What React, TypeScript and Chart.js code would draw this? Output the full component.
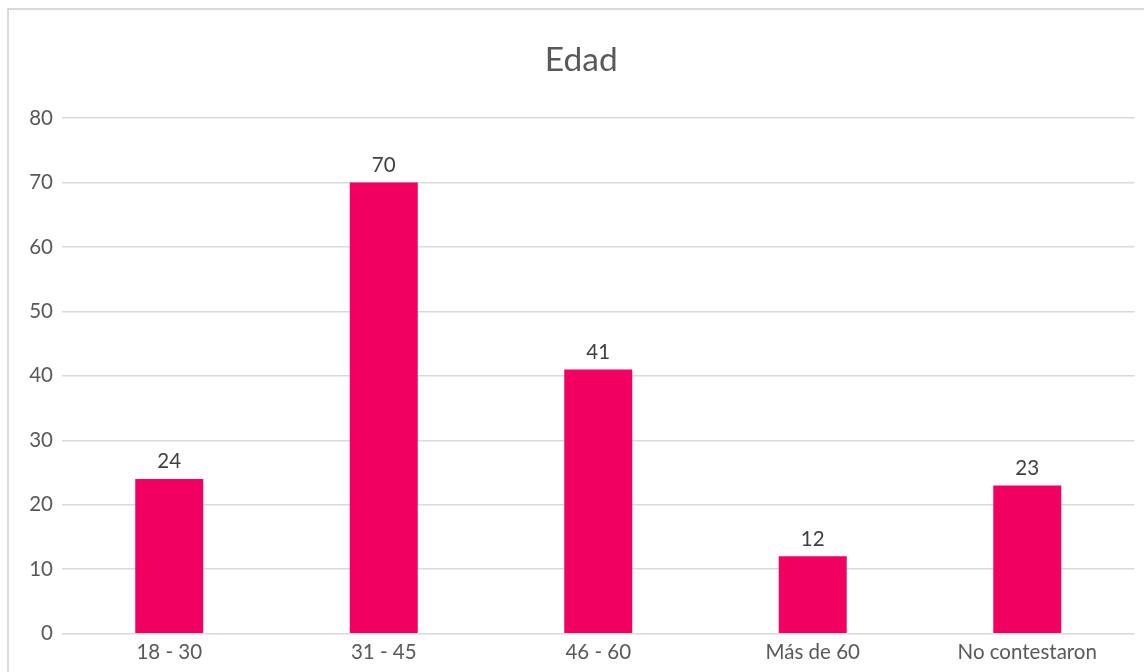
import React, { useEffect, useRef } from "react";
import { Chart, registerables } from "chart.js";

Chart.register(...registerables);

const categories = ["18 - 30", "31 - 45", "46 - 60", "Más de 60", "No contestaron"];
const values = [24, 70, 41, 12, 23];
const chartTitle = "Edad";
const yMax = 80;
const yStep = 10;

const FONT = "Lato, 'Open Sans', sans-serif";
const CW = 1162;
const CH = 672;

const valueLabels = {
  id: "valueLabels",
  afterDatasetsDraw(chart: any) {
    const ctx = chart.ctx;
    const meta = chart.getDatasetMeta(0);
    ctx.save();
    ctx.font = `20.5px ${FONT}`;
    ctx.fillStyle = "#404040";
    ctx.textAlign = "center";
    ctx.textBaseline = "bottom";
    meta.data.forEach((bar: any, i: number) => {
      ctx.fillText(String(values[i]), bar.x, bar.y - 7);
    });
    ctx.restore();
  },
};

export default function App() {
  const ref = useRef<HTMLCanvasElement | null>(null);
  useEffect(() => {
    if (!ref.current) return;
    const chart = new Chart(ref.current, {
      type: "bar",
      data: {
        labels: categories,
        datasets: [
          {
            data: values,
            backgroundColor: "#F00060",
            barPercentage: 0.317,
            categoryPercentage: 1,
          },
        ],
      },
      options: {
        animation: false,
        responsive: false,
        layout: { padding: { left: 28, right: CW - 1134.5, top: 0, bottom: 8.3 } },
        plugins: {
          legend: { display: false },
          tooltip: { enabled: false },
          title: {
            display: true,
            text: chartTitle,
            color: "#595959",
            font: { family: FONT, size: 33.5, weight: "normal" },
            padding: { top: 40, bottom: 37.8 },
          },
        },
        scales: {
          x: {
            grid: { display: false, drawTicks: false },
            border: { display: false },
            ticks: {
              color: "#595959",
              font: { family: FONT, size: 20.5 },
              padding: 6,
              maxRotation: 0,
              autoSkip: false,
            },
            afterFit(scale: any) {
              scale.height = 30;
            },
          },
          y: {
            min: 0,
            max: yMax,
            ticks: {
              stepSize: yStep,
              color: "#595959",
              font: { family: FONT, size: 20.5 },
              padding: 9,
            },
            grid: { color: "#d9d9d9", lineWidth: 1.5, drawTicks: false },
            border: { display: false },
            afterFit(scale: any) {
              scale.width = 34;
            },
          },
        },
      },
      plugins: [valueLabels],
    });
    return () => chart.destroy();
  }, []);

  return (
    <div style={{ position: "fixed", left: 0, top: 0, width: 1144, height: 672, overflow: "hidden", background: "#fff" }}>
      <canvas ref={ref} width={CW} height={CH} style={{ position: "absolute", left: 0, top: 0 }} />
      <div
        style={{
          position: "absolute",
          left: 7,
          top: 8,
          width: 1200,
          height: 700,
          borderTop: "2px solid #d9d9d9",
          borderLeft: "2px solid #d9d9d9",
          pointerEvents: "none",
        }}
      />
    </div>
  );
}
